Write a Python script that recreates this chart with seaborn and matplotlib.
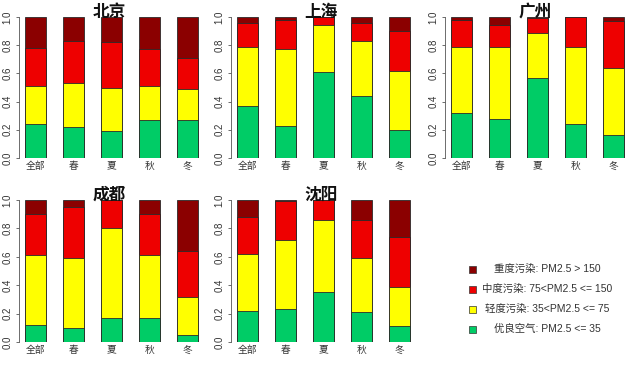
import matplotlib
matplotlib.use("Agg")
import matplotlib.pyplot as plt
import seaborn as sns
import numpy as np
import pandas as pd

sns.set_style("white")
plt.rcParams['font.family'] = ['Liberation Sans', 'Noto Sans CJK SC', 'DejaVu Sans']

seasons = ["全部", "春", "夏", "秋", "冬"]
cities = ["北京", "上海", "广州", "成都", "沈阳"]
levels = ["优良空气", "轻度污染", "中度污染", "重度污染"]
level_colors = ["#00CC66", "#FFFF00", "#EE0000", "#8B0000"]
legend_labels = ["重度污染: PM2.5 > 150", "中度污染: 75<PM2.5 <= 150",
                 "轻度污染: 35<PM2.5 <= 75", "优良空气: PM2.5 <= 35"]
legend_colors = ["#8B0000", "#EE0000", "#FFFF00", "#00CC66"]

# fractions per season: good, light, moderate, heavy
beijing_good = [0.24, 0.22, 0.19, 0.27, 0.27]
beijing_light = [0.27, 0.31, 0.31, 0.24, 0.22]
beijing_mod = [0.27, 0.30, 0.32, 0.26, 0.22]
beijing_heavy = [0.22, 0.17, 0.18, 0.23, 0.29]

shanghai_good = [0.37, 0.23, 0.61, 0.44, 0.20]
shanghai_light = [0.42, 0.54, 0.33, 0.39, 0.42]
shanghai_mod = [0.17, 0.21, 0.06, 0.13, 0.28]
shanghai_heavy = [0.04, 0.02, 0.00, 0.04, 0.10]

guangzhou_good = [0.32, 0.28, 0.57, 0.24, 0.16]
guangzhou_light = [0.47, 0.51, 0.32, 0.55, 0.48]
guangzhou_mod = [0.19, 0.15, 0.10, 0.21, 0.33]
guangzhou_heavy = [0.02, 0.06, 0.01, 0.00, 0.03]

chengdu_good = [0.12, 0.10, 0.17, 0.17, 0.05]
chengdu_light = [0.49, 0.49, 0.63, 0.44, 0.27]
chengdu_mod = [0.29, 0.36, 0.20, 0.29, 0.32]
chengdu_heavy = [0.10, 0.05, 0.00, 0.10, 0.36]

shenyang_good = [0.22, 0.23, 0.35, 0.21, 0.11]
shenyang_light = [0.40, 0.49, 0.51, 0.38, 0.28]
shenyang_mod = [0.26, 0.27, 0.14, 0.27, 0.35]
shenyang_heavy = [0.12, 0.01, 0.00, 0.14, 0.26]

city_data = {
    "北京": [beijing_good, beijing_light, beijing_mod, beijing_heavy],
    "上海": [shanghai_good, shanghai_light, shanghai_mod, shanghai_heavy],
    "广州": [guangzhou_good, guangzhou_light, guangzhou_mod, guangzhou_heavy],
    "成都": [chengdu_good, chengdu_light, chengdu_mod, chengdu_heavy],
    "沈阳": [shenyang_good, shenyang_light, shenyang_mod, shenyang_heavy],
}

W, H = 640, 366
fig = plt.figure(figsize=(W / 100, H / 100), dpi=100)

col_left = [19, 231, 445]
row_top = [17, 200]
row_bot = [158, 342]
unit = 38.0
xlim = (-0.434, 4.3)
ax_w = (xlim[1] - xlim[0]) * unit

for i, city in enumerate(cities):
    r, c = divmod(i, 3)
    left = col_left[c]
    ax = fig.add_axes([left / W, 1 - row_bot[r] / H, ax_w / W,
                       (row_bot[r] - row_top[r]) / H])
    vals = np.array(city_data[city])
    cum = np.cumsum(vals, axis=0)
    cum[-1] = 1.0
    rows = []
    for li, lev in enumerate(levels):
        for si, s in enumerate(seasons):
            rows.append({"season": s, "level": lev, "cum": cum[li, si]})
    df = pd.DataFrame(rows)
    for li in range(len(levels) - 1, -1, -1):
        sub = df[df["level"] == levels[li]]
        sns.barplot(data=sub, x="season", y="cum", order=seasons,
                    color=level_colors[li], saturation=1, width=0.55,
                    edgecolor="#2a2a2a", linewidth=0.6, errorbar=None, ax=ax)
    ax.set_xlim(*xlim)
    ax.set_ylim(0, 1)
    ax.set_xlabel("")
    ax.set_ylabel("")
    for sp in ["top", "right", "bottom"]:
        ax.spines[sp].set_visible(False)
    ax.spines["left"].set_color("#555555")
    ax.spines["left"].set_linewidth(0.6)
    ax.set_yticks([0, 0.2, 0.4, 0.6, 0.8, 1.0])
    ax.set_yticklabels(["0.0", "0.2", "0.4", "0.6", "0.8", "1.0"],
                       rotation=90, va="center")
    ax.tick_params(axis="y", direction="out", length=2.5, width=0.6,
                   color="#555555", labelsize=7, labelcolor="#333333", pad=2, left=True)
    ax.tick_params(axis="x", length=0, labelsize=7, labelcolor="#333333", pad=2)
    ax.set_facecolor("none")
    ax.set_title(city, fontsize=12, fontweight="bold", pad=0, color="#111111",
                 family=['Noto Sans CJK SC', 'DejaVu Sans'])

# legend
leg_y = [269, 289, 309, 329]
for y, lab, col in zip(leg_y, legend_labels, legend_colors):
    fig.patches.append(plt.Rectangle(((472 - 3.5) / W, 1 - (y + 3.5) / H), 7 / W, 7 / H,
                                     transform=fig.transFigure, facecolor=col,
                                     edgecolor="#333333", linewidth=0.5))
    fig.text(547 / W, 1 - y / H, lab, ha="center", va="center",
             fontsize=7.5, color="#333333")

fig.savefig("out.png", dpi=100)
